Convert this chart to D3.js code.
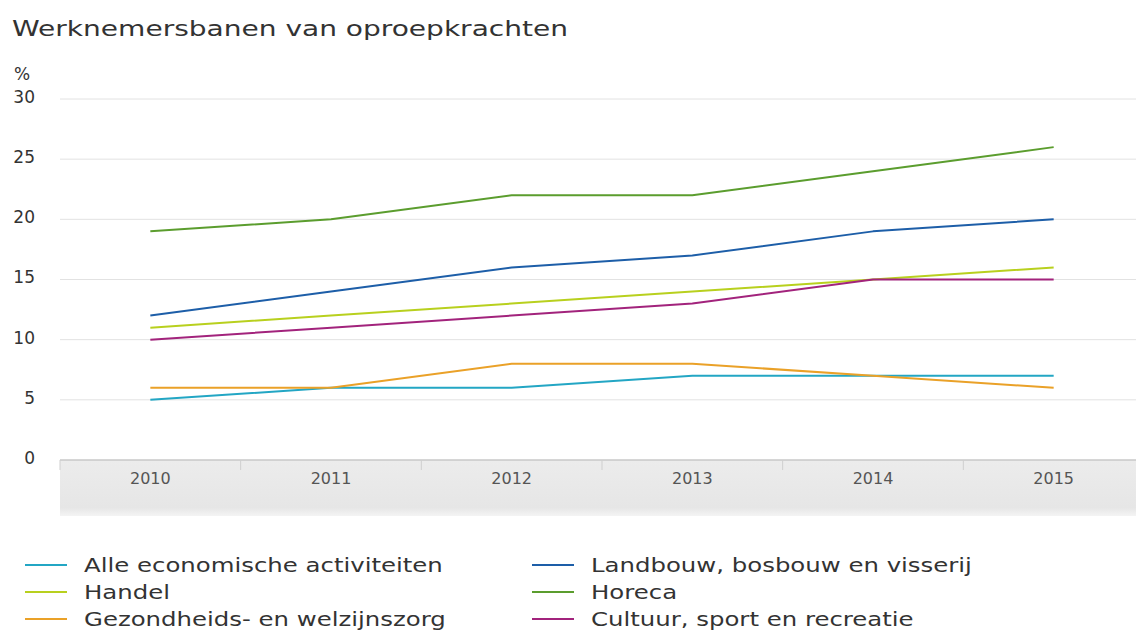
<!DOCTYPE html>
<html>
<head>
<meta charset="utf-8">
<script src="https://cdn.jsdelivr.net/npm/d3@7"></script>
<style>
  body { margin: 0; background: #fff; }
  svg text { font-family: "DejaVu Sans", Verdana, sans-serif; fill: #333; }
</style>
</head>
<body>
<svg id="chart" width="1136" height="633"></svg>
<script>
const years = ["2010", "2011", "2012", "2013", "2014", "2015"];
const yTicks = [0, 5, 10, 15, 20, 25, 30];

const alle = [5, 6, 6, 7, 7, 7];
const landbouw = [12, 14, 16, 17, 19, 20];
const handel = [11, 12, 13, 14, 15, 16];
const horeca = [19, 20, 22, 22, 24, 26];
const gezondheid = [6, 6, 8, 8, 7, 6];
const cultuur = [10, 11, 12, 13, 15, 15];

const series = [
    { name: "Alle economische activiteiten", values: alle, color: "#23a6c4" },
    { name: "Landbouw, bosbouw en visserij", values: landbouw, color: "#1d5ea8" },
    { name: "Handel", values: handel, color: "#b8d01e" },
    { name: "Horeca", values: horeca, color: "#5b9d2e" },
    { name: "Gezondheids- en welzijnszorg", values: gezondheid, color: "#eaa128" },
    { name: "Cultuur, sport en recreatie", values: cultuur, color: "#a2237c" }
];

const svg = d3.select("#chart");
const plotLeft = 60, plotRight = 1144, plotTop = 99, plotBottom = 460;

const x = d3.scaleBand().domain(years).range([plotLeft, plotRight]);
const y = d3.scaleLinear().domain([0, 30]).range([plotBottom, plotTop]);

// titel
svg.append("text")
    .attr("x", 12).attr("y", 36)
    .style("font-size", "21px")
    .attr("textLength", 556).attr("lengthAdjust", "spacingAndGlyphs")
    .text("Werknemersbanen van oproepkrachten");

svg.append("text")
    .attr("x", 14).attr("y", 80)
    .style("font-size", "17px")
    .text("%");

// band onder de as
const grad = svg.append("defs").append("linearGradient")
    .attr("id", "band").attr("x1", 0).attr("y1", 0).attr("x2", 0).attr("y2", 1);
grad.append("stop").attr("offset", "0%").attr("stop-color", "#ececec");
grad.append("stop").attr("offset", "85%").attr("stop-color", "#e6e6e6");
grad.append("stop").attr("offset", "100%").attr("stop-color", "#f4f4f4");

svg.append("rect")
    .attr("x", plotLeft).attr("y", plotBottom)
    .attr("width", 1136 - plotLeft).attr("height", 56)
    .attr("fill", "url(#band)");

// rasterlijnen
svg.append("g")
    .selectAll("line")
    .data(yTicks.filter(d => d > 0))
    .join("line")
    .attr("x1", plotLeft).attr("x2", 1136)
    .attr("y1", d => y(d)).attr("y2", d => y(d))
    .attr("stroke", "#e2e2e2").attr("stroke-width", 1);

svg.append("g")
    .selectAll("text")
    .data(yTicks)
    .join("text")
    .attr("x", 35).attr("y", d => y(d) - 2)
    .attr("dy", "0.35em")
    .attr("text-anchor", "end")
    .style("font-size", "17px")
    .text(d => d);

// x-as
svg.append("line")
    .attr("x1", plotLeft).attr("x2", 1136)
    .attr("y1", plotBottom).attr("y2", plotBottom)
    .attr("stroke", "#c8c8c8").attr("stroke-width", 1.5);

svg.append("g")
    .selectAll("line")
    .data(years)
    .join("line")
    .attr("x1", d => x(d)).attr("x2", d => x(d))
    .attr("y1", plotBottom).attr("y2", plotBottom + 10)
    .attr("stroke", "#cfcfcf");

svg.append("g")
    .selectAll("text")
    .data(years)
    .join("text")
    .attr("x", d => x(d) + x.bandwidth() / 2)
    .attr("y", 484)
    .attr("text-anchor", "middle")
    .style("font-size", "16px")
    .style("fill", "#555")
    .text(d => d);

// lijnen
const line = d3.line()
    .x((d, i) => x(years[i]) + x.bandwidth() / 2)
    .y(d => y(d));

svg.append("g")
    .selectAll("path")
    .data(series)
    .join("path")
    .attr("d", d => line(d.values))
    .attr("fill", "none")
    .attr("stroke", d => d.color)
    .attr("stroke-width", 2)
    .attr("stroke-linejoin", "round");

// legenda
const legend = svg.append("g")
    .selectAll("g")
    .data(series)
    .join("g")
    .attr("transform", (d, i) => `translate(${i % 2 ? 532 : 25},${565 + Math.floor(i / 2) * 27})`);

legend.append("line")
    .attr("x1", 0).attr("x2", 42)
    .attr("stroke", d => d.color).attr("stroke-width", 2);

legend.append("text")
    .attr("transform", "translate(59,0) scale(1.22,1)")
    .attr("dy", "0.35em")
    .style("font-size", "20px")
    .text(d => d.name);
</script>
</body>
</html>
